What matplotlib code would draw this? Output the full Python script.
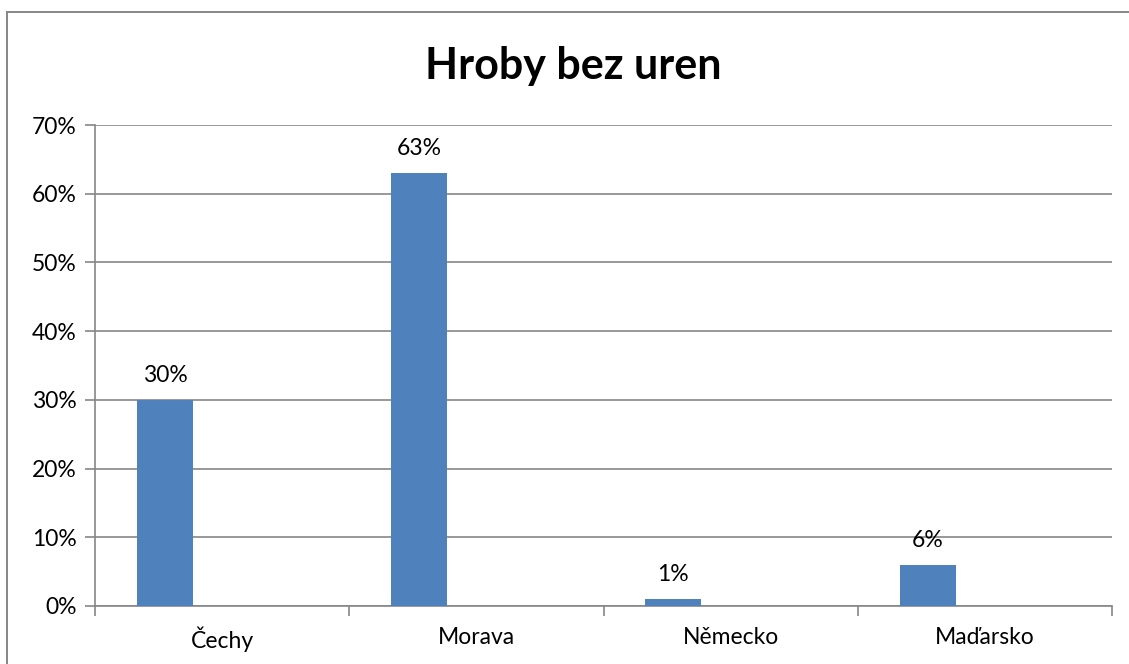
import matplotlib
matplotlib.use("Agg")
import matplotlib.pyplot as plt
from matplotlib.lines import Line2D
from matplotlib.ticker import FuncFormatter, FixedLocator

# data
categories = ["Čechy", "Morava", "Německo", "Maďarsko"]
values = [30, 63, 1, 6]
y_ticks = [0, 10, 20, 30, 40, 50, 60, 70]
title = "Hroby bez uren"

plt.rcParams['font.family'] = ['Lato', 'DejaVu Sans']
grey = "#868686"
bar_color = "#4F81BD"
fs = 16.5

fig = plt.figure(figsize=(11.29, 6.64), dpi=100)
ax = fig.add_axes([95 / 1129, 1 - 606 / 664, (1112 - 95) / 1129, (606 - 125) / 664])

# outer chart border, only top and left edges are inside the picture
bx, by = 6.5 / 1129, 1 - 11.5 / 664
fig.add_artist(Line2D([bx, 1.0], [by, by], transform=fig.transFigure, color=grey, linewidth=1.4))
fig.add_artist(Line2D([bx, bx], [0.0, by], transform=fig.transFigure, color=grey, linewidth=1.4))

# bars sit left of the category centre (excel cluster with empty series)
x = [i - 0.225 for i in range(len(categories))]
ax.bar(x, values, width=0.22, color=bar_color, zorder=3)

for xi, v in zip(x, values):
    ax.annotate(f"{v}%", (xi, v), xytext=(0, 10), textcoords="offset points",
                ha="center", va="bottom", fontsize=fs, color="#000000")

ax.set_xlim(-0.5, len(categories) - 0.5)
ax.set_ylim(0, 70)
ax.set_yticks(y_ticks)
ax.yaxis.set_major_formatter(FuncFormatter(lambda v, p: f"{v:.0f}%"))
ax.grid(axis="y", color=grey, linewidth=1.2, zorder=0)

# category labels centred, tick marks on the boundaries
ax.xaxis.set_major_locator(FixedLocator([i - 0.5 for i in range(len(categories) + 1)]))
ax.xaxis.set_major_formatter(FuncFormatter(lambda v, p: ""))
ax.set_xticks(range(len(categories)), minor=True)
ax.set_xticklabels(categories, minor=True)
ax.tick_params(axis="x", which="minor", length=0, labelsize=fs, pad=15)
ax.tick_params(axis="x", which="major", length=7, width=1.2, color=grey, direction="out")
ax.tick_params(axis="y", length=7, width=1.2, color=grey, labelsize=fs, pad=6)

for side in ["top", "right"]:
    ax.spines[side].set_visible(False)
for side in ["left", "bottom"]:
    ax.spines[side].set_color(grey)
    ax.spines[side].set_linewidth(1.2)

fig.text(573 / 1129, 1 - 66 / 664, title, ha="center", va="center",
         fontsize=31, fontweight="bold")

fig.savefig("out.png", dpi=100)
